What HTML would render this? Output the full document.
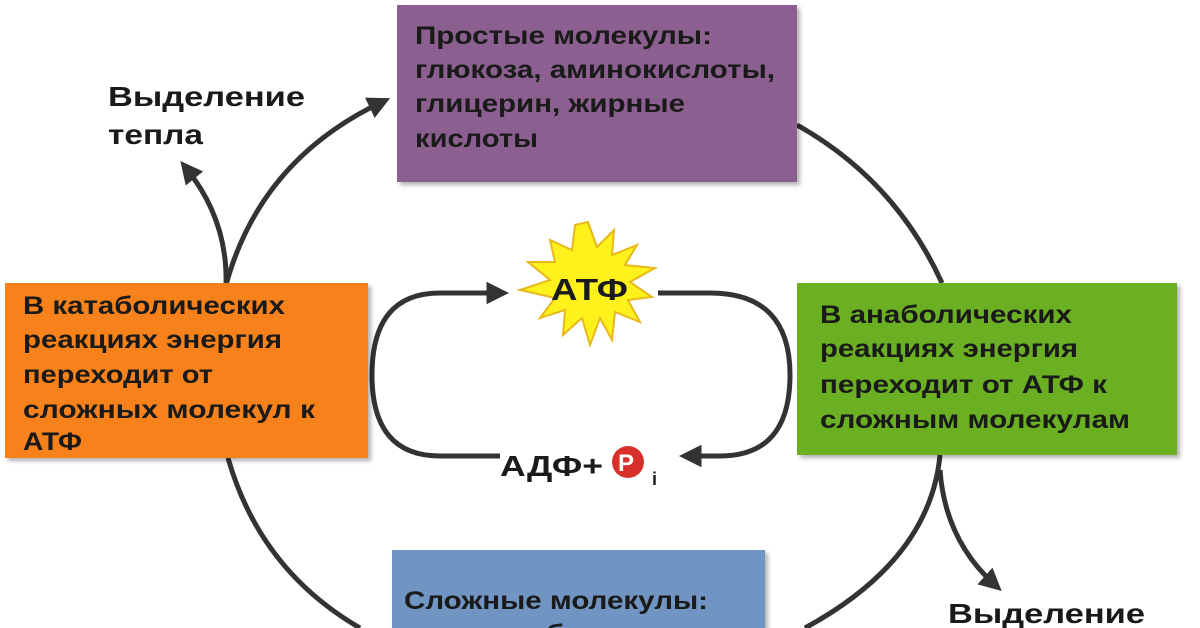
<!DOCTYPE html>
<html><head><meta charset="utf-8"><style>
html,body{margin:0;padding:0;background:#fff}
svg{display:block}
text{font-family:"Liberation Sans","DejaVu Sans",sans-serif;font-weight:bold;fill:#1a1a1a}
</style></head><body>
<svg width="1200" height="628" viewBox="0 0 1200 628" xmlns="http://www.w3.org/2000/svg">
<defs>
<marker id="ah" viewBox="0 0 10 10" refX="6" refY="5" markerWidth="4.5" markerHeight="4.5" orient="auto" markerUnits="strokeWidth">
<path d="M0,0 L10,5 L0,10 Z" fill="#333"/></marker>
<filter id="sh"><feDropShadow dx="3" dy="3" stdDeviation="2" flood-color="#000" flood-opacity="0.3"/></filter>
</defs>
<g fill="none" stroke="#333" stroke-width="5">
<path d="M226,285 Q260,160 382,102" marker-end="url(#ah)"/>
<path d="M226,285 Q228,220 186,168" marker-end="url(#ah)"/>
<path d="M797,125 Q895,180 942,283"/>
<path d="M940,455 Q930,560 805,628"/>
<path d="M940,470 Q945,540 995,585" marker-end="url(#ah)"/>
<path d="M228,458 Q260,570 360,628"/>
<path d="M495,293 L440,293 Q372,293 372,375 Q372,456 440,456 L500,456"/>
<path d="M440,293 L500,293" marker-end="url(#ah)"/>
<path d="M658,293 L710,293 Q790,293 790,375 Q790,456 720,456 L688,456" marker-end="url(#ah)"/>
</g>
<rect x="397" y="5" width="400" height="177" fill="#8B5E8F" filter="url(#sh)"/>
<rect x="5" y="283" width="363" height="175" fill="#F7821F" filter="url(#sh)"/>
<rect x="797" y="283" width="380" height="172" fill="#6AB024" filter="url(#sh)"/>
<rect x="392" y="550" width="373" height="90" fill="#7095C3" filter="url(#sh)"/>
<g font-size="25">
<text x="415" y="44" textLength="297" lengthAdjust="spacingAndGlyphs">Простые молекулы:</text>
<text x="415" y="78" textLength="360" lengthAdjust="spacingAndGlyphs">глюкоза, аминокислоты,</text>
<text x="415" y="112" textLength="270" lengthAdjust="spacingAndGlyphs">глицерин, жирные</text>
<text x="415" y="147" textLength="123" lengthAdjust="spacingAndGlyphs">кислоты</text>
<text x="23" y="314" textLength="262" lengthAdjust="spacingAndGlyphs">В катаболических</text>
<text x="23" y="348" textLength="259" lengthAdjust="spacingAndGlyphs">реакциях энергия</text>
<text x="23" y="383" textLength="190" lengthAdjust="spacingAndGlyphs">переходит от</text>
<text x="23" y="418" textLength="292" lengthAdjust="spacingAndGlyphs">сложных молекул к</text>
<text x="23" y="450" textLength="59" lengthAdjust="spacingAndGlyphs">АТФ</text>
<text x="820" y="323" textLength="252" lengthAdjust="spacingAndGlyphs">В анаболических</text>
<text x="820" y="357" textLength="258" lengthAdjust="spacingAndGlyphs">реакциях энергия</text>
<text x="820" y="393" textLength="287" lengthAdjust="spacingAndGlyphs">переходит от АТФ к</text>
<text x="820" y="428" textLength="310" lengthAdjust="spacingAndGlyphs">сложным молекулам</text>
<text x="404" y="609" textLength="304" lengthAdjust="spacingAndGlyphs">Сложные молекулы:</text>
<text x="404" y="642" textLength="366" lengthAdjust="spacingAndGlyphs">крахмал, белки, липиды</text>
</g>
<g font-size="28">
<text x="108" y="106" textLength="197" lengthAdjust="spacingAndGlyphs">Выделение</text>
<text x="108" y="144" textLength="95" lengthAdjust="spacingAndGlyphs">тепла</text>
<text x="948" y="623" textLength="197" lengthAdjust="spacingAndGlyphs">Выделение</text>
</g>
<polygon points="588,222 597,247 614,230 612,255 637,245 625,265 655,268 630,282 652,297 628,300 640,322 615,312 612,340 600,318 590,345 582,318 563,335 565,310 540,318 555,298 520,290 550,280 528,262 555,262 550,240 572,250 575,225" fill="#FFF21C" stroke="#E8B81C" stroke-width="2"/>
<text x="551" y="300" font-size="31" textLength="77" lengthAdjust="spacingAndGlyphs">АТФ</text>
<text x="500" y="476" font-size="29" textLength="103" lengthAdjust="spacingAndGlyphs">АДФ+</text>
<circle cx="628" cy="462" r="16" fill="#D8302A"/>
<text x="618" y="471" font-size="24" style="fill:#fff">P</text>
<text x="652" y="485" font-size="18">i</text>
</svg>
</body></html>
